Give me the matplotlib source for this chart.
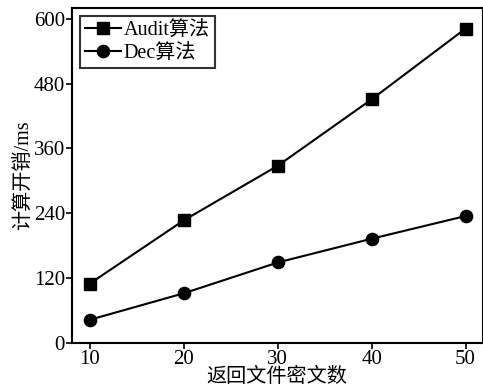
import matplotlib
matplotlib.use("Agg")
import matplotlib.pyplot as plt

x_vals = [10, 20, 30, 40, 50]
audit = [110, 227, 328, 451, 582]
dec = [43, 92, 149, 193, 235]
yticks = [0, 120, 240, 360, 480, 600]
xticks = [10, 20, 30, 40, 50]

plt.rcParams['font.family'] = ['Liberation Serif', 'Noto Sans CJK SC']

fig = plt.figure(figsize=(4.83, 3.89), dpi=100)
ax = fig.add_axes([72/483, 1-343/389, (483-72)/483 - 0.001, (343-8)/389])

ax.plot(x_vals, audit, color='black', lw=1.5, marker='s', ms=8, label='Audit算法')
ax.plot(x_vals, dec, color='black', lw=1.5, marker='o', ms=8.8, label='Dec算法')

ax.set_xlim(8.1, 51.8)
ax.set_ylim(0, 620)
ax.set_xticks(xticks)
ax.set_yticks(yticks)
ax.tick_params(direction='out', length=4, width=1.2, labelsize=15, pad=1)
for s in ax.spines.values():
    s.set_linewidth(1.5)

ax.set_xlabel('返回文件密文数', fontsize=14.5, labelpad=-1)
ax.set_ylabel('计算开销/ms', fontsize=14.5, labelpad=0)

leg = ax.legend(loc='upper left', fontsize=14.5, frameon=True, fancybox=False,
                edgecolor='black', handlelength=1.8, handletextpad=0.1,
                borderpad=0.25, labelspacing=0.2, borderaxespad=0.4)
leg.get_frame().set_linewidth(1.5)

fig.savefig('out.png', dpi=100)
